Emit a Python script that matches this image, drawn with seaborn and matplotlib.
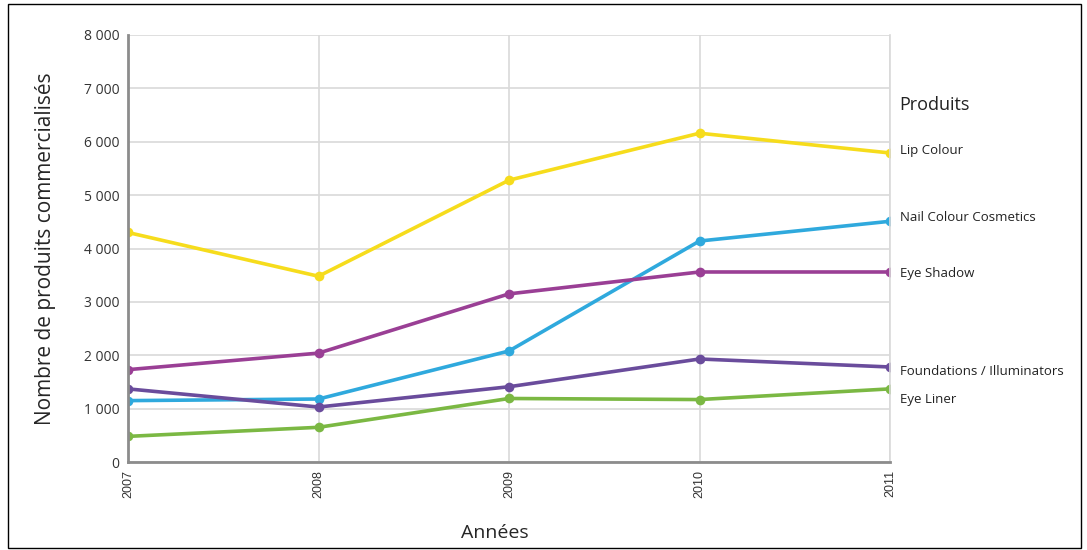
import pandas as pd
import numpy as np
import matplotlib
matplotlib.use("Agg")
import matplotlib.pyplot as plt
import matplotlib.ticker as mticker
from matplotlib.patches import Rectangle
import seaborn as sns

# Data
years = [2007, 2008, 2009, 2010, 2011]
lip_colour = [4300, 3480, 5280, 6160, 5790]
nail_colour = [1150, 1180, 2080, 4140, 4510]
eye_shadow = [1730, 2040, 3150, 3560, 3560]
foundations = [1370, 1030, 1410, 1930, 1780]
eye_liner = [480, 650, 1190, 1170, 1370]

products = ["Lip Colour", "Nail Colour Cosmetics", "Eye Shadow",
            "Foundations / Illuminators", "Eye Liner"]
colors = ["#f6dc1c", "#2fa9dd", "#9a3f95", "#6a4c9c", "#7bb843"]

df = pd.DataFrame({
    "Année": years * 5,
    "Produit": np.repeat(products, len(years)),
    "Valeur": lip_colour + nail_colour + eye_shadow + foundations + eye_liner,
})

sns.set_style("white")
plt.rcParams["font.family"] = ["Open Sans", "DejaVu Sans"]

fig = plt.figure(figsize=(10.87, 5.5), dpi=100)
ax = fig.add_axes([128 / 1087, 1 - 462 / 550, (890 - 128) / 1087, (462 - 35) / 550])

sns.lineplot(data=df, x="Année", y="Valeur", hue="Produit", palette=colors,
             marker="o", markersize=7, markeredgewidth=0, linewidth=2.6,
             legend=False, ax=ax)

ax.set_xlim(2007, 2011)
ax.set_ylim(0, 8000)
ax.set_xticks(years)
ax.set_xticklabels([str(y) for y in years], rotation=90, fontsize=9,
                   family=["Liberation Sans", "DejaVu Sans"], color="#333333")
ax.yaxis.set_major_locator(mticker.MultipleLocator(1000))
ax.yaxis.set_major_formatter(mticker.FuncFormatter(lambda v, p: f"{int(v):,}".replace(",", " ")))
for lab in ax.get_yticklabels():
    lab.set_fontsize(10)
    lab.set_color("#333333")
ax.tick_params(axis="both", length=0, pad=6)

ax.grid(True, color="#d9d9d9", linewidth=1.2)
ax.set_axisbelow(True)
ax.spines["top"].set_visible(False)
ax.spines["left"].set_color("#8c8c8c")
ax.spines["left"].set_linewidth(2)
ax.spines["bottom"].set_color("#8c8c8c")
ax.spines["bottom"].set_linewidth(2)
ax.spines["right"].set_color("#d9d9d9")
ax.spines["right"].set_linewidth(1.2)

ax.set_xlabel("Années", fontsize=14, labelpad=14)
ax.set_ylabel("Nombre de produits commercialisés", fontsize=15, labelpad=20)
ax.xaxis.set_label_coords((495 - 128) / (890 - 128), -0.145)

# direct labels at the end of each line
last_vals = [lip_colour[-1], nail_colour[-1], eye_shadow[-1], foundations[-1], eye_liner[-1]]
offsets = [2, 3, -1, -3, -8]
for name, val, off in zip(products, last_vals, offsets):
    ax.annotate(name, xy=(years[-1], val), xytext=(7, off), textcoords="offset points",
                fontsize=9.5, va="center", ha="left", annotation_clip=False, color="#222222")
ax.annotate("Produits", xy=(years[-1], 7000), xytext=(7, -12), textcoords="offset points",
            fontsize=13, va="center", ha="left", annotation_clip=False, color="#222222")

# thin frame around the whole picture
fig.patches.append(Rectangle((8 / 1087, 2 / 550), 1073 / 1087, 544 / 550,
                             transform=fig.transFigure, fill=False,
                             edgecolor="black", linewidth=1))

fig.savefig("out.png", dpi=100)
